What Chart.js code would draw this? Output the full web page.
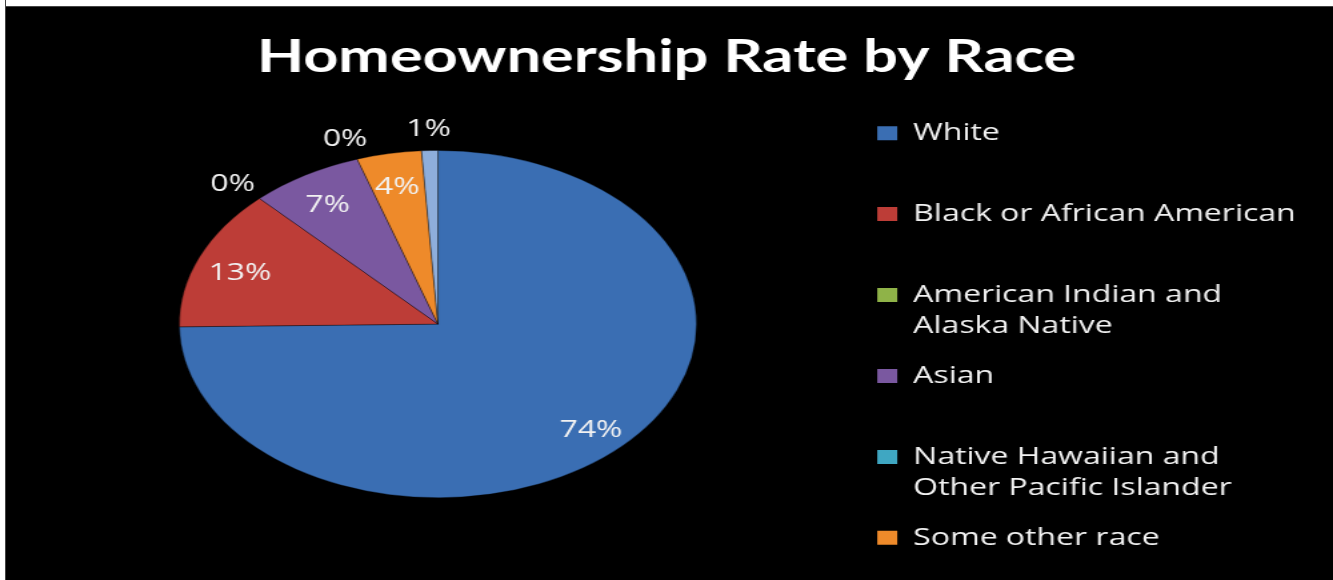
<!DOCTYPE html>
<html>
<head>
<meta charset="utf-8">
<title>Homeownership Rate by Race</title>
<script src="https://cdn.jsdelivr.net/npm/chart.js@4.4.1/dist/chart.umd.min.js"></script>
<style>
    html, body { margin: 0; padding: 0; background: #000; overflow: hidden; }
    #wrap { position: relative; width: 1333px; height: 580px; }
    /* drawn on a 1000px wide canvas, shown stretched to the full width */
    #raceChart { width: 1333px; height: 580px; display: block; }
    #edgeTop { position: absolute; left: 0; top: 0; width: 1333px; height: 7px; background: #fff; border-bottom: 1px solid #444; box-sizing: border-box; }
    #edgeLeft { position: absolute; left: 0; top: 0; width: 6px; height: 580px; background: #fff; border-right: 1px solid #444; box-sizing: border-box; }
</style>
</head>
<body>
<div id="wrap">
    <canvas id="raceChart" width="1000" height="580" style="width:1333px;height:580px;"></canvas>
    <div id="edgeTop"></div>
    <div id="edgeLeft"></div>
</div>
<script>
// ============================================
// Homeownership rate by race (pie)
// ============================================

const races = [
    'White',
    'Black or African American',
    ['American Indian and', 'Alaska Native'],
    'Asian',
    ['Native Hawaiian and', 'Other Pacific Islander'],
    'Some other race',
    'Two or more races'
];
const shares = [74, 13, 0, 7, 0, 4, 1];   // percent
const sliceColors = ['#3a6eb3', '#bd3d37', '#8fb348', '#7a58a0', '#3fa7c2', '#ee8a2a', '#8eaedb'];
const legendCount = 6;                      // the last slice is not listed in the legend

// pie is drawn squashed vertically (tilted look) and lifted a bit
const tilt = 0.895;
const pieLift = 17;
const labelDrop = 5;   // label ring sits slightly lower, like a 3d pie

const tiltPlugin = {
    id: 'tilt',
    beforeDatasetsDraw(chart) {
        const arc = chart.getDatasetMeta(0).data[0];
        const ctx = chart.ctx;
        ctx.save();
        ctx.translate(arc.x, arc.y - pieLift);
        ctx.scale(1, tilt);
        ctx.translate(-arc.x, -arc.y);
    },
    afterDatasetsDraw(chart) {
        chart.ctx.restore();
    }
};

// percent labels: inside for the larger slices, outside for the tiny ones
const sliceLabels = {
    id: 'sliceLabels',
    afterDatasetsDraw(chart) {
        const ctx = chart.ctx;
        const meta = chart.getDatasetMeta(0);
        ctx.save();
        ctx.fillStyle = '#f2f2f2';
        ctx.font = '24px "Open Sans", sans-serif';
        ctx.textAlign = 'center';
        ctx.textBaseline = 'middle';
        meta.data.forEach((arc, i) => {
            const v = shares[i];
            const mid = (arc.startAngle + arc.endAngle) / 2;
            const r = arc.outerRadius * (v < 2 ? 1.15 : 0.83);
            const x = arc.x + Math.cos(mid) * r;
            const y = arc.y - pieLift + labelDrop + Math.sin(mid) * r * tilt;
            ctx.fillText(v + '%', x, y);
        });
        ctx.restore();
    }
};

// single-line entries get an empty second line so the rows stay evenly spaced;
// the last entry stays a plain string so the column fits
function legendText(name, i) {
    if (Array.isArray(name)) return name;
    return i === legendCount - 1 ? name : [name, ''];
}

const ctx = document.getElementById('raceChart').getContext('2d');
new Chart(ctx, {
    type: 'pie',
    data: {
        labels: races,
        datasets: [{
            data: shares,
            backgroundColor: sliceColors,
            borderColor: 'rgba(0,0,0,0.35)',
            borderWidth: 1,
            clip: false
        }]
    },
    options: {
        responsive: false,
        animation: false,
        radius: 194,
        layout: { padding: { left: 18, right: 18, top: 0, bottom: 0 } },
        plugins: {
            title: {
                display: true,
                text: 'Homeownership Rate by Race',
                color: '#ffffff',
                font: { family: 'Lato, sans-serif', size: 46, weight: 'bold', lineHeight: 1.2 },
                padding: { top: 30, bottom: 17 }
            },
            legend: {
                position: 'right',
                align: 'start',
                fullSize: false,
                labels: {
                    color: '#f2f2f2',
                    font: { family: '"Open Sans", sans-serif', size: 24, lineHeight: 1.29 },
                    boxWidth: 15,
                    boxHeight: 14,
                    padding: 19,
                    generateLabels(chart) {
                        return races.slice(0, legendCount).map((name, i) => ({
                            text: legendText(name, i),
                            fillStyle: sliceColors[i],
                            strokeStyle: sliceColors[i],
                            lineWidth: 0,
                            fontColor: '#f2f2f2',
                            index: i
                        }));
                    }
                }
            },
            tooltip: { enabled: false }
        }
    },
    plugins: [tiltPlugin, sliceLabels]
});
</script>
</body>
</html>
